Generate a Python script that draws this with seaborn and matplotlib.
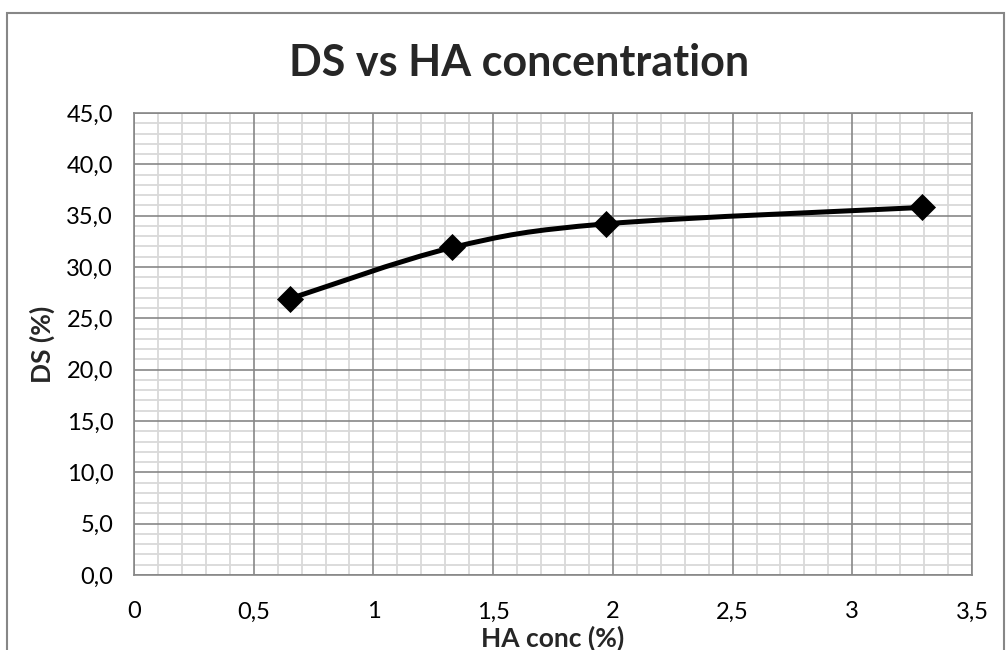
import matplotlib
matplotlib.use("Agg")
import matplotlib.pyplot as plt
import numpy as np
import pandas as pd
import seaborn as sns
from matplotlib.path import Path
from matplotlib.patches import PathPatch, Rectangle
from matplotlib.ticker import MultipleLocator, FuncFormatter

# Data
ha_conc = [0.65, 1.33, 1.97, 3.29]
ds_pct = [26.9, 31.9, 34.2, 35.8]
x_ticks = [0, 0.5, 1, 1.5, 2, 2.5, 3, 3.5]
y_ticks = [0, 5, 10, 15, 20, 25, 30, 35, 40, 45]
title = "DS vs HA concentration"
x_label = "HA conc (%)"
y_label = "DS (%)"

sns.set_theme(style="white")
plt.rcParams["font.family"] = ["Lato", "DejaVu Sans"]

fig = plt.figure(figsize=(10.06, 6.5), dpi=100)
ax = fig.add_axes([134 / 1006, 1 - 575 / 650, (972 - 134) / 1006, (575 - 113) / 650])

df = pd.DataFrame({"x": ha_conc, "y": ds_pct})

# Smooth (Excel-like) curve through the data via Bezier segments
pts = df[["x", "y"]].to_numpy(dtype=float)
verts = [tuple(pts[0])]
codes = [Path.MOVETO]
n = len(pts)
for i in range(n - 1):
    p0 = pts[i - 1] if i > 0 else pts[i]
    p1 = pts[i]
    p2 = pts[i + 1]
    p3 = pts[i + 2] if i + 2 < n else pts[i + 1]
    c1 = p1 + (p2 - p0) / 6.0
    c2 = p2 - (p3 - p1) / 6.0
    verts += [tuple(c1), tuple(c2), tuple(p2)]
    codes += [Path.CURVE4, Path.CURVE4, Path.CURVE4]
ax.add_patch(PathPatch(Path(verts, codes), facecolor="none", edgecolor="black",
                       lw=3.6, capstyle="round", joinstyle="round", zorder=3))

sns.scatterplot(data=df, x="x", y="y", marker="D", s=190, color="black",
                edgecolor="black", linewidth=0, ax=ax, zorder=4, legend=False)

ax.set_xlim(0, 3.5)
ax.set_ylim(0, 45)
ax.xaxis.set_minor_locator(MultipleLocator(0.1))
ax.yaxis.set_minor_locator(MultipleLocator(1))
ax.set_xticks(x_ticks)
ax.set_yticks(y_ticks)
ax.xaxis.set_major_formatter(FuncFormatter(lambda v, p: (("%g" % v).replace(".", ","))))
ax.yaxis.set_major_formatter(FuncFormatter(lambda v, p: ("%.1f" % v).replace(".", ",")))

# minor grid below, major grid drawn on top of it
ax.grid(which="minor", color="#d9d9d9", linewidth=1.3)
ax.grid(which="major", visible=False)
ax.set_axisbelow(True)
for xv in x_ticks:
    ax.axvline(xv, color="#878787", linewidth=1.2, zorder=1)
for yv in y_ticks:
    ax.axhline(yv, color="#878787", linewidth=1.2, zorder=1)
for s in ax.spines.values():
    s.set_color("#878787")
    s.set_linewidth(1.2)

ax.tick_params(axis="both", which="both", length=0, labelsize=17, colors="black")
ax.tick_params(axis="x", pad=19)
ax.tick_params(axis="y", pad=15)

ax.set_xlabel(x_label, fontsize=19, fontweight="bold", labelpad=2)
ax.set_ylabel(y_label, fontsize=19, fontweight="bold", labelpad=8)
fig.text(519 / 1006, 1 - 63 / 650, title, fontsize=31, fontweight="bold",
         ha="center", va="center")

fig.patches.append(Rectangle((7 / 1006, -0.05), (1004 - 7) / 1006, 1.05 - 13 / 650,
                             transform=fig.transFigure, fill=False,
                             edgecolor="#878787", linewidth=1.5))

fig.savefig("out.png", dpi=100, facecolor="white")
